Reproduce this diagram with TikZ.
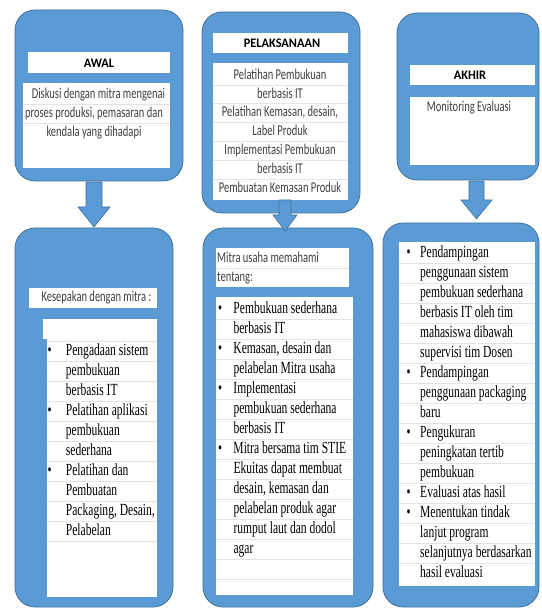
\documentclass[tikz,border=0pt]{standalone}
\usepackage{fontspec}
\newfontfamily\calnarrow[FakeStretch=0.70]{Carlito}
\newfontfamily\caltitle[FakeStretch=0.95]{Carlito}
\newfontfamily\timesnarrow[FakeStretch=0.68]{Liberation Serif}
\definecolor{panelblue}{HTML}{5B9BD5}
\definecolor{paneledge}{HTML}{41719C}
\definecolor{rowgrey}{HTML}{DCE4EE}
\definecolor{bodygrey}{HTML}{404040}
\newcommand{\bul}{\textbullet}
\begin{document}
\begin{tikzpicture}[x=1pt,y=-1pt]
\tikzset{panel/.style={fill=panelblue,draw=paneledge,line width=0.8pt,rounded corners=20pt}}
\tikzset{whitebox/.style={fill=white,draw=none}}
\tikzset{blockarrow/.style={fill=panelblue,draw=paneledge,line width=0.6pt,line join=miter}}
\tikzset{rowline/.style={draw=rowgrey,line width=0.5pt}}
\tikzset{titletext/.style={font=\caltitle\bfseries\fontsize{13}{16}\selectfont,inner sep=0pt}}
\tikzset{caltext/.style={font=\calnarrow\fontsize{15}{19}\selectfont,text=bodygrey,inner sep=0pt}}
\tikzset{listtext/.style={font=\timesnarrow\fontsize{17}{20}\selectfont,inner sep=0pt,anchor=north west}}
\useasboundingbox[fill=white] (0,0) rectangle (541,609);
% panels
\draw[panel] (15,10) rectangle (183,181);
\draw[panel] (202,12) rectangle (360,213);
\draw[panel] (397,13) rectangle (539,180);
\draw[panel] (15,228) rectangle (173,607);
\draw[panel] (203,228) rectangle (373,607);
\draw[panel] (383,223) rectangle (539,607);
% white fields
\fill[whitebox] (28,52) rectangle (170,73);
\fill[whitebox] (23,83) rectangle (170,168);
\fill[whitebox] (213,33) rectangle (348,53);
\fill[whitebox] (213,63) rectangle (348,200);
\fill[whitebox] (410,65) rectangle (535,85);
\fill[whitebox] (410,97) rectangle (535,165);
\fill[whitebox] (29,288) rectangle (157,308);
\fill[whitebox] (43,319) rectangle (157,339);
\fill[whitebox] (47,339) rectangle (157,597);
\fill[whitebox] (216,248) rectangle (349,287);
\fill[whitebox] (216,297) rectangle (353,595);
\fill[whitebox] (399,242) rectangle (535,586);
% row lines
\foreach \k in {1,2} \draw[rowline] (23,85.5+19*\k) -- (170,85.5+19*\k);
\foreach \k in {1,...,6} \draw[rowline] (213,66+18.8*\k) -- (348,66+18.8*\k);
\draw[rowline] (216,268) -- (349,268);
\foreach \k in {0,...,10} \draw[rowline] (47,341+20*\k) -- (157,341+20*\k);
\foreach \k in {1,...,14} \draw[rowline] (216,299+20*\k) -- (353,299+20*\k);
\foreach \k in {1,...,16} \draw[rowline] (399,243+20*\k) -- (535,243+20*\k);
% top row
\node[titletext] (awal) at (99,63) {AWAL};
\node[caltext,anchor=north] (awaltext) at (94,85.5) {\begin{tabular}{@{}c@{}}
\hspace*{9pt}Diskusi dengan mitra mengenai\\
proses produksi, pemasaran dan\\
kendala yang dihadapi
\end{tabular}};
\node[titletext] (pelaksanaan) at (282,43) {PELAKSANAAN};
\node[caltext,anchor=north,font=\calnarrow\fontsize{15}{18.8}\selectfont] (pelaksanaantext) at (280,66) {\begin{tabular}{@{}c@{}}
Pelatihan Pembukuan\\
berbasis IT\\
Pelatihan Kemasan, desain,\\
Label Produk\\
Implementasi Pembukuan\\
berbasis IT\\
Pembuatan Kemasan Produk
\end{tabular}};
\node[titletext] (akhir) at (470,75) {AKHIR};
\node[caltext] (akhirtext) at (469,108) {Monitoring Evaluasi};
% bottom row
\node[caltext] (sepakat) at (96.5,298) {Kesepakan dengan mitra :};
\node[listtext] (sepakatlist) at (47.3,341) {\begin{tabular}{@{}p{18.4pt}@{}l@{}}
\bul & Pengadaan sistem\\
 & pembukuan\\
 & berbasis IT\\
\bul & Pelatihan aplikasi\\
 & pembukuan\\
 & sederhana\\
\bul & Pelatihan dan\\
 & Pembuatan\\
 & Packaging, Desain,\\
 & Pelabelan
\end{tabular}};
\node[caltext,anchor=north west] (paham) at (217,249) {\begin{tabular}{@{}l@{}}
Mitra usaha memahami\\
tentang:
\end{tabular}};
\node[listtext] (pahamlist) at (218,299) {\begin{tabular}{@{}p{15.3pt}@{}l@{}}
\bul & Pembukuan sederhana\\
 & berbasis IT\\
\bul & Kemasan, desain dan\\
 & pelabelan Mitra usaha\\
\bul & Implementasi\\
 & pembukuan sederhana\\
 & berbasis IT\\
\bul & Mitra bersama tim STIE\\
 & Ekuitas dapat membuat\\
 & desain, kemasan dan\\
 & pelabelan produk agar\\
 & rumput laut dan dodol\\
 & agar
\end{tabular}};
\node[listtext] (evallist) at (406.3,243) {\begin{tabular}{@{}p{13.7pt}@{}l@{}}
\bul & Pendampingan\\
 & penggunaan sistem\\
 & pembukuan sederhana\\
 & berbasis IT oleh tim\\
 & mahasiswa dibawah\\
 & supervisi tim Dosen\\
\bul & Pendampingan\\
 & penggunaan packaging\\
 & baru\\
\bul & Pengukuran\\
 & peningkatan tertib\\
 & pembukuan\\
\bul & Evaluasi atas hasil\\
\bul & Menentukan tindak\\
 & lanjut program\\
 & selanjutnya berdasarkan\\
 & hasil evaluasi
\end{tabular}};
% arrows
\draw[blockarrow] (86,182) -- (102,182) -- (102,207) -- (110,207) -- (94,227) -- (78,207) -- (86,207) -- cycle;
\draw[blockarrow] (279,200) -- (291,200) -- (291,215) -- (297,215) -- (285,231) -- (273,215) -- (279,215) -- cycle;
\draw[blockarrow] (469,181) -- (484,181) -- (484,200) -- (492,200) -- (476.5,219) -- (461,200) -- (469,200) -- cycle;
\end{tikzpicture}
\end{document}
